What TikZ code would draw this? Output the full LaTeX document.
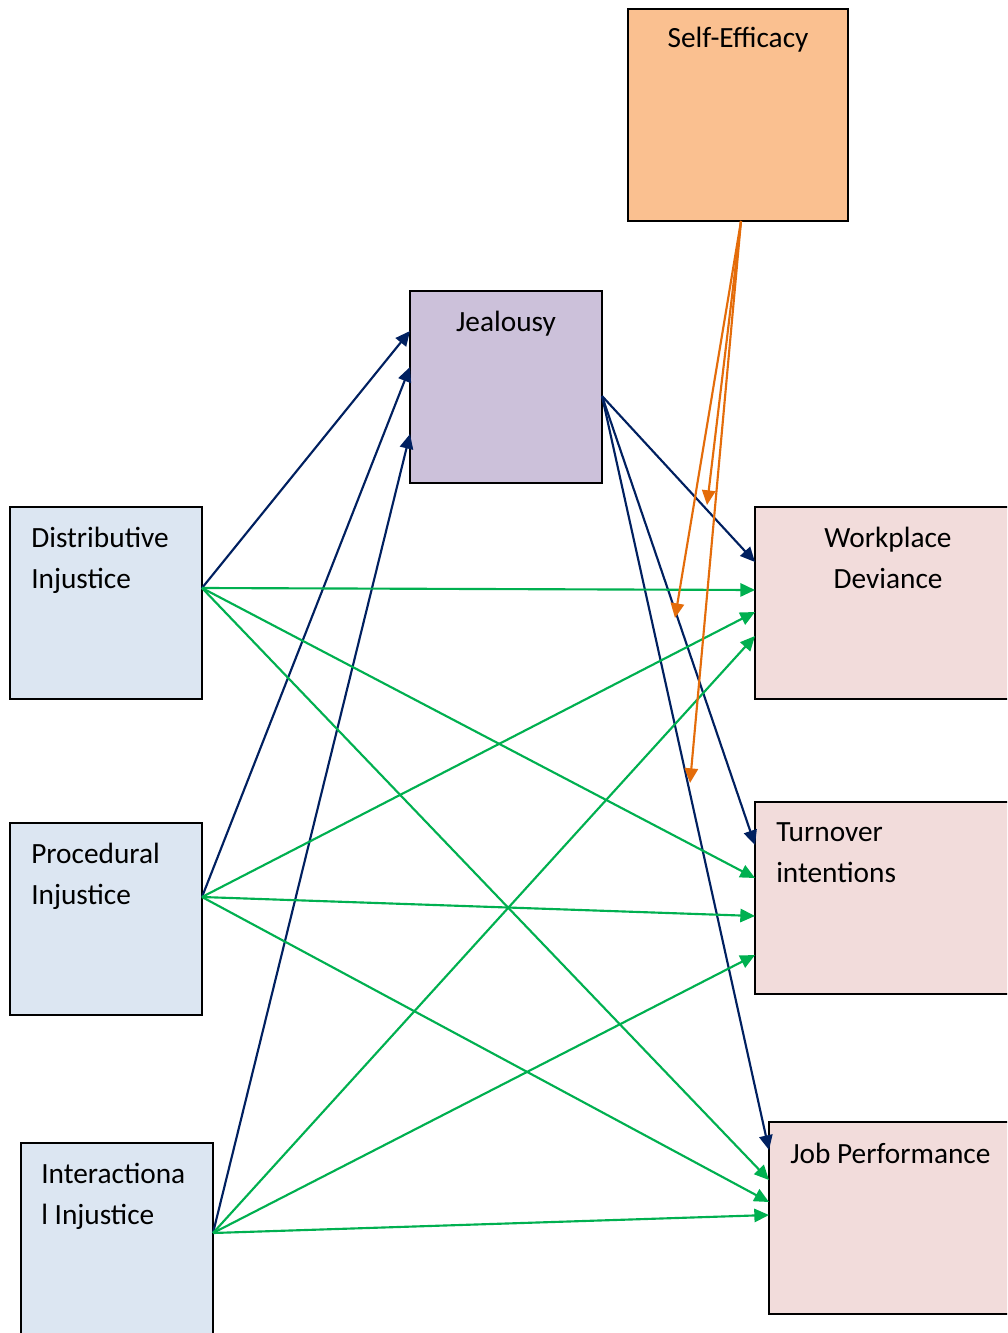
\documentclass[tikz,border=0pt]{standalone}
\usepackage{fontspec}
\setmainfont{Carlito}
\usetikzlibrary{arrows.meta,calc}
\definecolor{navyc}{HTML}{002060}
\definecolor{greenc}{HTML}{00B050}
\definecolor{orangec}{HTML}{E46C0A}
\definecolor{selffill}{HTML}{FAC090}
\definecolor{jealfill}{HTML}{CCC1DA}
\definecolor{bluefill}{HTML}{DCE6F2}
\definecolor{pinkfill}{HTML}{F2DCDB}
\begin{document}
\begin{tikzpicture}[x=0.75pt,y=-0.75pt,
  box/.style={draw=black,line width=1.1pt,anchor=north west,inner sep=0pt,outer sep=0pt},
  lbl/.style={inner sep=0pt,font=\fontsize{22}{30.75}\selectfont},
  tip/.style={-{Triangle[length=11pt,width=10pt]}},
  navyarr/.style={tip,draw=navyc,line width=1.6pt},
  greenarr/.style={tip,draw=greenc,line width=1.6pt},
  orangearr/.style={tip,draw=orangec,line width=1.6pt}]
\path[use as bounding box, clip] (0,0) rectangle (1007,1333);
\fill[white] (0,0) rectangle (1007,1333);
% boxes
\node[box,fill=selffill,minimum width=165pt,minimum height=159pt] (self) at (628,9) {};
\node[box,fill=jealfill,minimum width=144pt,minimum height=144pt] (jeal) at (410,291) {};
\node[box,fill=bluefill,minimum width=144pt,minimum height=144pt] (dist) at (10,507) {};
\node[box,fill=bluefill,minimum width=144pt,minimum height=144pt] (proc) at (10,823) {};
\node[box,fill=bluefill,minimum width=144pt,minimum height=150pt] (inter) at (21,1143) {};
\node[box,fill=pinkfill,minimum width=195pt,minimum height=144pt] (work) at (755,507) {};
\node[box,fill=pinkfill,minimum width=195pt,minimum height=144pt] (turn) at (755,802) {};
\node[box,fill=pinkfill,minimum width=188pt,minimum height=144pt] (job) at (769,1122) {};
% labels
\node[lbl,anchor=north] (selfT) at (738,27) {Self-Efficacy};
\node[lbl,anchor=north] (jealT) at (506,311) {Jealousy};
\node[lbl,anchor=north west,align=left] (distT) at (31,527) {Distributive\\Injustice};
\node[lbl,anchor=north west,align=left] (procT) at (31,843) {Procedural\\Injustice};
\node[lbl,anchor=north west,align=left] (interT) at (41,1163) {Interactiona\\l Injustice};
\node[lbl,anchor=north,align=center] (workT) at (888,527) {Workplace\\Deviance};
\node[lbl,anchor=north west,align=left] (turnT) at (776,822) {Turnover\\intentions};
\node[lbl,anchor=north west] (jobT) at (790,1143) {Job Performance};
% navy connectors
\draw[navyarr] ([yshift=-60.75pt]dist.north east) -- ([yshift=-30pt]jeal.north west);
\draw[navyarr] ([yshift=-55.5pt]proc.north east) -- ([yshift=-57pt]jeal.north west);
\draw[navyarr] ([yshift=-67.5pt]inter.north east) -- ([yshift=-107.25pt]jeal.north west);
\draw[navyarr] ([yshift=-78.75pt]jeal.north east) -- ([yshift=-41.25pt]work.north west);
\draw[navyarr] ([yshift=-78.75pt]jeal.north east) -- ([yshift=-32.25pt]turn.north west);
\draw[navyarr] ([yshift=-78.75pt]jeal.north east) -- ([yshift=-21pt]job.north west);
% green connectors
\draw[greenarr] ([yshift=-60.75pt]dist.north east) -- ([yshift=-62.25pt]work.north west);
\draw[greenarr] ([yshift=-60.75pt]dist.north east) -- ([yshift=-57pt]turn.north west);
\draw[greenarr] ([yshift=-60.75pt]dist.north east) -- ([yshift=-43.5pt]job.north west);
\draw[greenarr] ([yshift=-55.5pt]proc.north east) -- ([yshift=-78.75pt]work.north west);
\draw[greenarr] ([yshift=-55.5pt]proc.north east) -- ([yshift=-85.5pt]turn.north west);
\draw[greenarr] ([yshift=-55.5pt]proc.north east) -- ([yshift=-60pt]job.north west);
\draw[greenarr] ([yshift=-67.5pt]inter.north east) -- ([yshift=-96.75pt]work.north west);
\draw[greenarr] ([yshift=-67.5pt]inter.north east) -- ([yshift=-114.75pt]turn.north west);
\draw[greenarr] ([yshift=-67.5pt]inter.north east) -- ([yshift=-69.75pt]job.north west);
% orange moderation connectors
\coordinate (o1) at (707,505);
\coordinate (o2) at (675,618);
\coordinate (o3) at (690,783);
\draw[orangearr] ([xshift=84.75pt]self.south west) -- (o1);
\draw[orangearr] ([xshift=84.75pt]self.south west) -- (o2);
\draw[orangearr] ([xshift=84.75pt]self.south west) -- (o3);
\end{tikzpicture}
\end{document}
